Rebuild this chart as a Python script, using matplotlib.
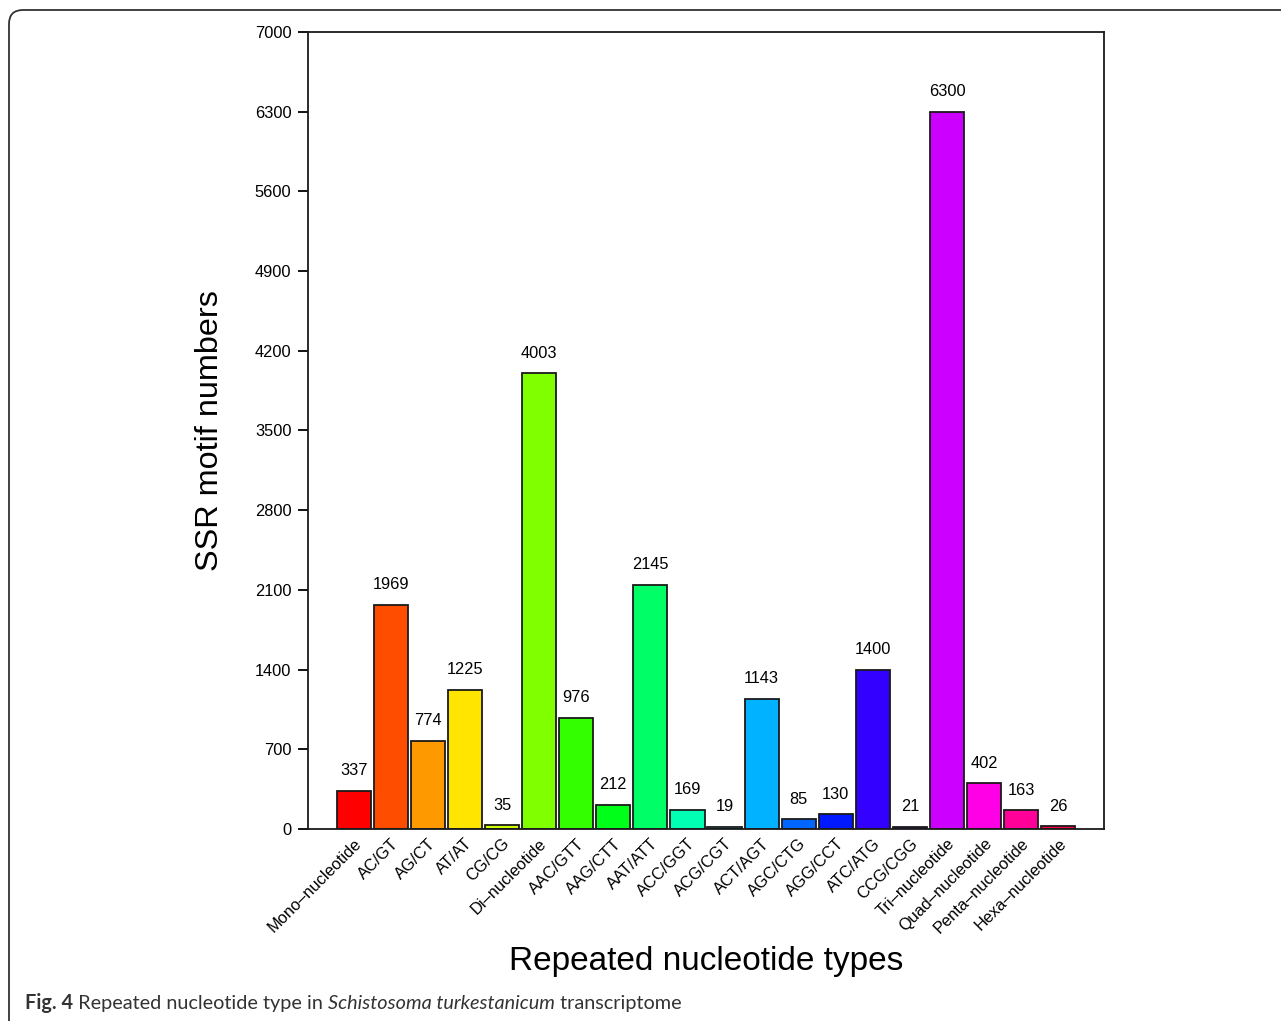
import colorsys
import matplotlib
matplotlib.use("Agg")
import matplotlib.pyplot as plt
from matplotlib.patches import FancyBboxPatch
from matplotlib.transforms import IdentityTransform

motif_types = ["Mono–nucleotide", "AC/GT", "AG/CT", "AT/AT", "CG/CG",
               "Di–nucleotide", "AAC/GTT", "AAG/CTT", "AAT/ATT", "ACC/GGT",
               "ACG/CGT", "ACT/AGT", "AGC/CTG", "AGG/CCT", "ATC/ATG",
               "CCG/CGG", "Tri–nucleotide", "Quad–nucleotide",
               "Penta–nucleotide", "Hexa–nucleotide"]
motif_counts = [337, 1969, 774, 1225, 35, 4003, 976, 212, 2145, 169,
                19, 1143, 85, 130, 1400, 21, 6300, 402, 163, 26]
y_ticks = [0, 700, 1400, 2100, 2800, 3500, 4200, 4900, 5600, 6300, 7000]

W, H = 1281, 1021
plt.rcParams['font.family'] = ['Liberation Sans', 'DejaVu Sans']

fig = plt.figure(figsize=(W / 100, H / 100), dpi=100)
ax = fig.add_axes([308 / W, 1 - 829 / H, (1104 - 308) / W, (829 - 32) / H])

# R-style rainbow palette
n = len(motif_counts)
colors = [colorsys.hsv_to_rgb(i / n, 1, 1) for i in range(n)]

x = list(range(n))
bars = ax.bar(x, motif_counts, width=0.92, color=colors,
              edgecolor='#1a1a1a', linewidth=1.3)
for xi, v in zip(x, motif_counts):
    ax.annotate(str(v), (xi, v), xytext=(0, 9), textcoords='offset points',
                ha='center', va='bottom', fontsize=11.8)

ax.set_xlim(-1.23, n - 1 + 1.23)
ax.set_ylim(0, 7000)
ax.set_yticks(y_ticks)
ax.set_yticklabels([str(t) for t in y_ticks], fontsize=11.8)
ax.tick_params(axis='y', length=7, width=1.3, pad=5)
ax.set_xticks(x)
ax.set_xticklabels(motif_types, rotation=45, ha='right', va='top',
                   rotation_mode='anchor', fontsize=11.8)
ax.tick_params(axis='x', length=0, pad=5)
for s in ax.spines.values():
    s.set_linewidth(1.3)
    s.set_color('#1a1a1a')

fig.text(210 / W, 1 - 431 / H, "SSR motif numbers", rotation=90,
         ha='center', va='center', fontsize=23.3)
fig.text(706 / W, 1 - 961 / H, "Repeated nucleotide types",
         ha='center', va='center', fontsize=24)

# rounded frame around the figure panel
frame = FancyBboxPatch((9, -40), 1400, H - 10 + 40,
                       boxstyle="round,pad=0,rounding_size=14",
                       transform=IdentityTransform(), fill=False,
                       edgecolor='#333333', linewidth=1.3)
fig.patches.append(frame)

# caption, drawn piece by piece
renderer = fig.canvas.get_renderer()
cap_parts = [("Fig. 4", 'bold', 'normal'),
             (" Repeated nucleotide type in ", 'normal', 'normal'),
             ("Schistosoma turkestanicum", 'normal', 'italic'),
             (" transcriptome", 'normal', 'normal')]
cx = 25
for txt, wt, st in cap_parts:
    t = fig.text(cx / W, 1 - 1009 / H, txt, fontsize=14.3, fontweight=wt,
                 fontstyle=st, color='#333333', ha='left', va='baseline',
                 family=['Lato', 'DejaVu Sans'])
    bb = t.get_window_extent(renderer)
    cx += bb.width

fig.savefig("out.png", dpi=100)
